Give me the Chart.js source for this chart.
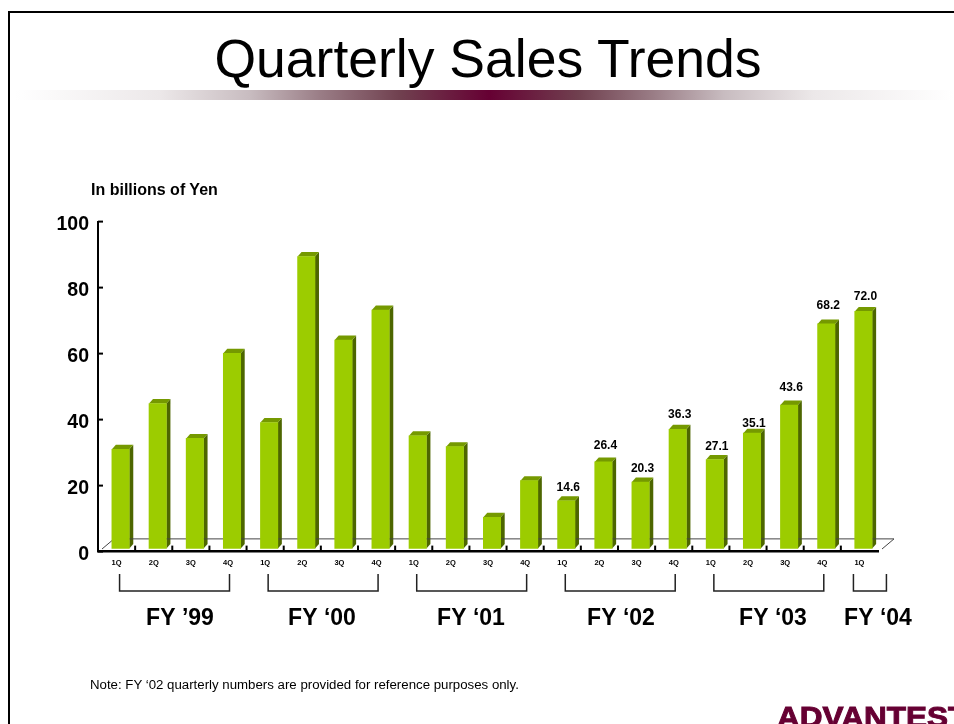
<!DOCTYPE html>
<html>
<head>
<meta charset="utf-8">
<title>Quarterly Sales Trends</title>
<script src="https://cdn.jsdelivr.net/npm/chart.js@4"></script>
<style>
  html, body { margin: 0; padding: 0; background: #fff; overflow: hidden; }
  #page { position: relative; width: 954px; height: 724px; overflow: hidden; font-family: "Liberation Sans", Arial, sans-serif; color: #000; }
  #myChart { position: absolute; left: 0; top: 0; }
  #frame { position: absolute; left: 8px; top: 11px; width: 1000px; height: 800px; border: 2.5px solid #000; box-sizing: border-box; }
  #band { position: absolute; left: 15px; top: 90px; width: 939px; height: 10px;
    background: linear-gradient(to right, #fff 0%, #ece8e9 15.4%, #c8bcc0 25%, #9a7d86 32.5%, #70404f 41%, #660033 50.5%, #70404f 60%, #9a7d86 68%, #c8bcc0 75.5%, #ece8e9 85%, #fff 100%); }
  .txt { position: absolute; white-space: nowrap; }
  #title { left: 0; width: 976px; top: 30.5px; text-align: center; font-size: 53.5px; line-height: 56px; }
  #unit { left: 91px; top: 182px; font-size: 16px; line-height: 16px; font-weight: bold; }
  #note { left: 90px; top: 678px; font-size: 13.25px; line-height: 14px; }
  #logo { left: 777px; top: 699px; font-size: 30px; line-height: 36px; font-weight: bold; color: #660033; -webkit-text-stroke: 1px #660033; transform-origin: left top; transform: scaleX(1.05); }
</style>
</head>
<body>
<div id="page">
  <canvas id="myChart" width="954" height="724"></canvas>
  <div id="frame"></div>
  <div id="band"></div>
  <div class="txt" id="title">Quarterly Sales Trends</div>
  <div class="txt" id="unit">In billions of Yen</div>
  <div class="txt" id="note">Note: FY ‘02 quarterly numbers are provided for reference purposes only.</div>
  <div class="txt" id="logo">ADVANTEST</div>
</div>
<script>
const quarters = ['1Q', '2Q', '3Q', '4Q', '1Q', '2Q', '3Q', '4Q', '1Q', '2Q', '3Q', '4Q', '1Q', '2Q', '3Q', '4Q', '1Q', '2Q', '3Q', '4Q', '1Q'];
const sales = [30.2, 44.1, 33.5, 59.3, 38.3, 88.6, 63.3, 72.4, 34.3, 31.0, 9.6, 20.7, 14.6, 26.4, 20.3, 36.3, 27.1, 35.1, 43.6, 68.2, 72.0];
const saleLabels = [null, null, null, null, null, null, null, null, null, null, null, null, '14.6', '26.4', '20.3', '36.3', '27.1', '35.1', '43.6', '68.2', '72.0'];
const fiscalYears = ['FY ’99', 'FY ‘00', 'FY ‘01', 'FY ‘02', 'FY ‘03', 'FY ‘04'];
const yearStart = [0, 4, 8, 12, 16, 20];
const yearEnd = [3, 7, 11, 15, 19, 20];
const yTicks = [0, 20, 40, 60, 80, 100];

// the bars sit on the back of the floor, not on the axis line
const shiftX = 4, shiftY = -2.6, depthX = 4, depthY = 4.5;
// how far each value label was placed above its bar
const labelLift = [10, 12.4, 9.6, 11.7, 9.7, 6.5, 14.4, 14.7, 11.4];
const fyTextX = [180, 322, 471, 621, 773, 878];

const box3d = {
    id: 'box3d',
    beforeDatasetsDraw(chart) {
        const ctx = chart.ctx;
        ctx.save();
        ctx.translate(shiftX, shiftY);
        chart.getDatasetMeta(0).data.forEach(bar => {
            const l = bar.x - bar.width / 2, r = bar.x + bar.width / 2;
            ctx.fillStyle = '#4d6600';
            ctx.beginPath();
            ctx.moveTo(r, bar.y);
            ctx.lineTo(r + depthX, bar.y - depthY);
            ctx.lineTo(r + depthX, bar.base - depthY);
            ctx.lineTo(r, bar.base);
            ctx.fill();
            ctx.fillStyle = '#759900';
            ctx.beginPath();
            ctx.moveTo(l, bar.y);
            ctx.lineTo(l + depthX, bar.y - depthY);
            ctx.lineTo(r + depthX, bar.y - depthY);
            ctx.lineTo(r, bar.y);
            ctx.fill();
        });
    },
    afterDatasetsDraw(chart) {
        chart.ctx.restore();
    }
};

const floorAndNotes = {
    id: 'floorAndNotes',
    beforeDatasetsDraw(chart) {
        const ctx = chart.ctx, a = chart.chartArea;
        const back = Math.round(a.bottom - 10) - 0.5;
        ctx.save();
        ctx.strokeStyle = '#444';
        ctx.lineWidth = 1;
        ctx.lineJoin = 'round';
        ctx.beginPath();
        ctx.moveTo(a.left, a.bottom);
        ctx.lineTo(a.left + 12, back);
        ctx.lineTo(a.right + 12, back);
        ctx.lineTo(a.right, a.bottom);
        ctx.stroke();
        ctx.restore();
    },
    afterDraw(chart) {
        const ctx = chart.ctx, a = chart.chartArea, x = chart.scales.x, y = chart.scales.y;
        ctx.save();
        ctx.strokeStyle = '#000';
        ctx.lineWidth = 2;
        // ticks point into the plot
        const step = (a.right - a.left) / quarters.length;
        for (let i = 1; i < quarters.length; i++) {
            ctx.beginPath();
            ctx.moveTo(a.left + step * i, a.bottom);
            ctx.lineTo(a.left + step * i, a.bottom - 6);
            ctx.stroke();
        }
        ctx.fillStyle = '#000';
        ctx.textBaseline = 'alphabetic';
        ctx.textAlign = 'right';
        ctx.font = 'bold 19.5px "Liberation Sans"';
        yTicks.forEach(v => {
            ctx.beginPath();
            ctx.moveTo(a.left, y.getPixelForValue(v));
            ctx.lineTo(a.left + 5, y.getPixelForValue(v));
            ctx.stroke();
            ctx.fillText(String(v), a.left - 9, y.getPixelForValue(v) + 8);
        });

        // value labels
        ctx.textAlign = 'center';
        ctx.font = 'bold 12px "Liberation Sans"';
        let n = 0;
        chart.getDatasetMeta(0).data.forEach((bar, i) => {
            if (saleLabels[i] === null) return;
            ctx.fillText(saleLabels[i], bar.x + shiftX + 2, bar.y + shiftY - labelLift[n]);
            n++;
        });

        // fiscal year brackets
        ctx.strokeStyle = '#222';
        ctx.lineWidth = 1.5;
        ctx.font = 'bold 23px "Liberation Sans"';
        fiscalYears.forEach((fy, i) => {
            let l = x.getPixelForTick(yearStart[i]) + 3, r = x.getPixelForTick(yearEnd[i]) + 1.5;
            if (yearStart[i] === yearEnd[i]) { l -= 9; r += 25.5; }
            ctx.beginPath();
            ctx.moveTo(l, 574);
            ctx.lineTo(l, 591);
            ctx.lineTo(r, 591);
            ctx.lineTo(r, 574);
            ctx.stroke();
            ctx.fillText(fy, fyTextX[i], 625);
        });
        ctx.restore();
    }
};

const displayChart = () => {
    const ctx = document.getElementById('myChart').getContext('2d');
    const myChart = new Chart(ctx, {
        type: 'bar',
        data: {
            labels: quarters,
            datasets: [{
                label: 'Sales',
                data: sales,
                backgroundColor: '#9ccc00',
                borderWidth: 0,
                barThickness: 17.4
            }]
        },
        plugins: [box3d, floorAndNotes],
        options: {
            responsive: false,
            animation: false,
            layout: { padding: { left: 0, right: 76, top: 221.6, bottom: 0 } },
            plugins: { legend: { display: false }, tooltip: { enabled: false } },
            scales: {
                x: {
                    afterFit(scale) { scale.height = 172.4; },
                    grid: { display: true, drawOnChartArea: false, drawTicks: false },
                    border: { color: '#000', width: 2.5 },
                    ticks: {
                        autoSkip: false,
                        maxRotation: 0,
                        padding: 7,
                        color: '#000',
                        font: { family: 'Liberation Sans', size: 7.5, weight: 'bold' }
                    }
                },
                y: {
                    min: 0,
                    max: 100,
                    afterFit(scale) { scale.width = 98; },
                    afterBuildTicks(scale) { scale.ticks = yTicks.map(v => ({ value: v })); },
                    grid: { display: true, drawOnChartArea: false, drawTicks: false },
                    border: { color: '#000', width: 2 },
                    ticks: { display: false }
                }
            }
        }
    });
};

displayChart();
</script>
</body>
</html>
